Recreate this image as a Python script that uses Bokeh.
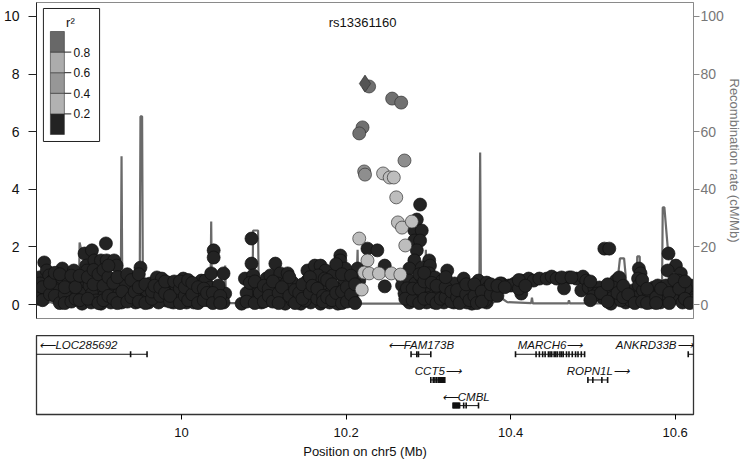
from bokeh.plotting import figure
from bokeh.models import Range1d, LinearAxis, FixedTicker, Label
from bokeh.layouts import column
from bokeh.embed import file_html
from bokeh.resources import INLINE
from bokeh.core.properties import value

FONT = "Liberation Sans"

# ---------------- data ----------------
x_view = (9.8236, 10.6224)          # Mb shown
logp_view = (-0.486, 10.486)        # -log10(p)
recomb_view = (-4.86, 104.86)       # cM/Mb

lead_name = "rs13361160"
lead_snp = (10.223, 7.67)

ld_bins = [0.0, 0.2, 0.4, 0.6, 0.8, 1.0]
ld_tick_labels = ["0.2", "0.4", "0.6", "0.8"]
ld_colors = ["#232323", "#b2b2b2", "#979797", "#acacac", "#686868"]

# (position Mb, -log10 p) by LD group
snps_r2_00_02 = [
    (9.827, 0.94), (9.833, 1.46), (9.836, 1.18), (9.839, 1.01), (9.843, 0.83), (9.837, 0.56),
    (9.845, 0.56), (9.849, 0.38), (9.851, 0.73), (9.855, 1.25), (9.854, 0.14), (9.848, 0.49),
    (9.854, 0.94), (9.828, 0.73),
    (9.863, 0.83), (9.869, 1.18), (9.873, 0.73), (9.879, 0.56), (9.882, 1.77), (9.891, 1.88),
    (9.908, 2.12), (9.884, 1.35), (9.894, 1.53), (9.902, 1.53), (9.909, 1.53), (9.918, 1.53),
    (9.921, 1.35), (9.885, 1.18), (9.897, 0.94), (9.908, 0.76), (9.878, 0.38), (9.879, 0.03),
    (9.890, 0.07), (9.902, 0.03), (9.914, 0.07), (9.914, 0.56), (9.924, 0.38), (9.867, 0.49),
    (9.888, 0.66), (9.900, 0.49), (9.891, 0.38), (9.906, 0.31), (9.896, 0.14), (9.861, 0.31),
    (9.872, 0.94),
    (9.930, 0.94), (9.927, 0.07), (9.940, 0.56), (9.950, 1.28), (9.945, 0.83), (9.944, 0.07),
    (9.954, 0.24), (9.962, 0.73), (9.970, 0.94), (9.976, 0.90), (9.969, 0.38), (9.981, 0.14),
    (9.960, 0.07), (9.988, 0.49), (9.996, 0.24), (10.002, 0.90), (10.011, 0.56), (10.018, 0.24),
    (10.024, 0.83), (9.936, 0.31), (9.952, 0.56), (9.972, 0.07), (9.984, 0.76), (9.993, 0.66),
    (10.006, 0.07), (10.015, 0.07), (10.023, 0.38), (9.990, 0.07), (9.978, 0.56), (9.958, 0.49),
    (9.932, 0.66),
    (10.029, 0.83), (10.039, 1.88), (10.039, 1.63), (10.036, 1.08), (10.035, 0.59), (10.024, 0.38),
    (10.033, 0.14), (10.042, 0.24), (10.051, 1.08), (10.053, 0.38), (10.051, 0.07), (10.073, 0.03),
    (10.077, 0.90), (10.085, 2.29), (10.085, 1.42), (10.087, 1.01), (10.085, 0.59), (10.091, 0.24),
    (10.097, 0.07), (10.103, 0.90), (10.114, 1.42), (10.108, 1.01), (10.120, 1.08), (10.129, 1.08),
    (10.114, 0.56), (10.123, 0.24), (10.126, 0.03), (10.135, 0.76), (10.141, 0.24), (10.145, 0.03),
    (10.153, 1.18), (10.162, 1.35), (10.169, 1.35), (10.175, 1.18), (10.162, 0.83), (10.169, 0.73),
    (10.178, 0.59), (10.160, 0.38), (10.169, 0.03), (10.180, 0.07), (10.193, 1.70), (10.193, 1.53),
    (10.190, 1.18), (10.198, 0.83), (10.186, 0.59), (10.193, 0.24), (10.190, 0.03), (10.204, 0.59),
    (10.208, 0.14), (10.214, 1.25), (10.216, 0.83), (10.045, 0.66), (10.041, 0.14), (10.087, 0.49),
    (10.099, 0.49), (10.109, 0.14), (10.117, 0.73), (10.129, 0.49), (10.135, 0.14), (10.150, 0.49),
    (10.153, 0.83), (10.157, 0.07), (10.166, 1.01), (10.174, 0.90), (10.184, 1.01), (10.181, 0.38),
    (10.199, 1.25), (10.202, 0.24), (10.210, 0.49), (10.150, 0.14), (10.127, 0.73), (10.102, 0.21),
    (10.081, 0.21),
    (10.290, 3.47), (10.286, 2.95), (10.283, 2.57), (10.292, 2.57), (10.283, 2.22), (10.290, 2.22),
    (10.286, 1.88), (10.226, 1.94), (10.238, 1.88), (10.247, 1.35), (10.247, 0.63), (10.283, 1.53),
    (10.301, 1.53), (10.277, 1.25), (10.292, 1.28), (10.302, 1.35), (10.268, 0.94), (10.268, 0.66),
    (10.277, 0.83), (10.284, 0.73), (10.292, 0.94), (10.301, 1.08), (10.308, 0.94), (10.323, 1.18),
    (10.317, 0.83), (10.271, 0.38), (10.280, 0.38), (10.292, 0.38), (10.305, 0.38), (10.317, 0.49),
    (10.325, 0.59), (10.332, 0.73), (10.343, 0.90), (10.341, 0.56), (10.353, 0.49), (10.361, 0.83),
    (10.371, 0.76), (10.381, 0.56), (10.389, 0.73), (10.398, 0.66), (10.405, 0.73), (10.413, 0.83),
    (10.422, 0.90), (10.413, 0.38), (10.307, 0.07), (10.319, 0.07), (10.331, 0.07), (10.344, 0.21),
    (10.353, 0.03), (10.371, 0.07), (10.277, 0.07), (10.298, 0.07), (10.311, 0.24), (10.326, 0.31),
    (10.341, 0.31), (10.361, 0.24), (10.373, 0.59), (10.387, 0.73), (10.401, 0.66), (10.369, 0.14),
    (10.347, 0.07), (10.286, 0.21), (10.274, 0.56), (10.298, 0.66), (10.313, 0.49),
    (10.428, 0.83), (10.435, 0.90), (10.444, 0.90), (10.450, 0.97), (10.456, 0.90), (10.464, 0.90),
    (10.471, 0.94), (10.480, 0.90), (10.488, 0.97), (10.492, 0.83), (10.465, 0.56), (10.486, 0.49),
    (10.495, 0.59), (10.502, 0.56), (10.508, 0.59), (10.514, 1.94), (10.520, 1.94), (10.528, 0.83),
    (10.532, 0.94), (10.525, 0.59), (10.516, 0.49), (10.512, 0.24), (10.524, 0.24), (10.522, 0.03),
    (10.540, 0.49), (10.549, 0.49), (10.556, 1.25), (10.558, 1.08), (10.555, 0.90), (10.556, 0.66),
    (10.540, 0.07), (10.552, 0.24), (10.564, 0.24), (10.574, 0.59), (10.579, 0.66), (10.570, 0.07),
    (10.582, 0.07), (10.585, 0.38), (10.592, 1.77), (10.601, 1.35), (10.591, 1.18), (10.607, 1.08),
    (10.604, 0.83), (10.597, 0.56), (10.609, 0.31), (10.616, 0.31), (10.619, 0.66), (10.597, 0.21),
    (10.609, 0.07), (10.462, 0.94), (10.474, 0.94), (10.534, 0.14), (10.546, 0.14), (10.561, 0.49),
    (10.568, 0.42), (10.589, 0.66), (10.613, 0.56), (10.621, 0.14), (10.505, 0.38), (10.500, 0.28),
    (9.825, 0.45), (9.825, 0.20), (9.831, 0.60), (9.831, 0.15), (9.840, 0.35), (9.840, 0.75),
    (9.846, 0.30), (9.846, 1.10), (9.852, 1.05), (9.852, 0.05), (9.858, 0.35), (9.858, 0.60),
    (9.858, 0.05), (9.866, 0.10), (9.866, 1.00), (9.871, 0.20), (9.871, 0.60), (9.876, 1.00),
    (9.876, 0.15), (9.886, 0.20), (9.886, 0.95), (9.893, 0.70), (9.893, 1.20), (9.899, 0.05),
    (9.899, 1.05), (9.905, 0.65), (9.905, 1.20), (9.905, 0.15), (9.911, 0.30), (9.911, 0.95),
    (9.911, 1.35), (9.917, 0.20), (9.917, 0.75), (9.922, 0.05), (9.922, 0.95), (9.928, 0.45),
    (9.934, 0.10), (9.934, 1.05), (9.939, 0.25), (9.939, 0.85), (9.943, 0.45), (9.948, 0.10),
    (9.948, 0.60), (9.948, 1.05), (9.956, 0.05), (9.956, 0.70), (9.964, 0.20), (9.964, 0.45),
    (9.967, 0.65), (9.974, 0.30), (9.974, 0.60), (9.980, 0.40), (9.980, 0.80), (9.986, 0.10),
    (9.986, 0.30), (9.991, 0.80), (9.998, 0.05), (9.998, 0.55), (9.998, 0.80), (10.004, 0.30),
    (10.004, 0.60), (10.008, 0.15), (10.008, 0.85), (10.013, 0.35), (10.013, 0.75), (10.020, 0.05),
    (10.020, 0.60), (10.027, 0.15), (10.027, 0.55), (10.031, 0.40), (10.038, 0.40), (10.038, 0.05),
    (10.047, 0.30), (10.047, 0.05), (10.079, 0.40), (10.079, 0.10), (10.083, 0.75), (10.089, 0.80),
    (10.089, 0.05), (10.095, 0.40), (10.100, 0.65), (10.100, 0.10), (10.106, 0.55), (10.106, 0.30),
    (10.111, 0.80), (10.111, 0.10), (10.118, 0.40), (10.118, 0.05), (10.122, 0.60), (10.131, 0.30),
    (10.131, 0.95), (10.138, 0.50), (10.138, 0.05), (10.143, 0.40), (10.147, 0.70), (10.147, 0.20),
    (10.156, 0.40), (10.156, 0.95), (10.159, 0.65), (10.165, 0.20), (10.165, 0.55), (10.172, 0.30),
    (10.172, 0.10), (10.177, 0.85), (10.177, 0.25), (10.183, 0.15), (10.183, 0.70), (10.188, 0.40),
    (10.188, 1.40), (10.195, 0.05), (10.195, 0.45), (10.195, 1.05), (10.201, 0.10), (10.201, 0.60),
    (10.206, 0.35), (10.206, 1.00), (10.211, 0.05), (10.211, 0.70),
    (10.272, 0.20), (10.281, 0.15), (10.281, 0.55), (10.289, 0.05), (10.289, 0.55), (10.289, 1.05),
    (10.295, 0.20), (10.295, 0.80), (10.295, 1.10), (10.304, 0.20), (10.304, 0.75), (10.310, 0.05),
    (10.310, 0.65), (10.315, 0.20), (10.321, 0.25), (10.321, 0.60), (10.321, 0.95), (10.328, 0.10),
    (10.328, 0.45), (10.335, 0.25), (10.335, 0.50), (10.338, 0.05), (10.346, 0.35), (10.346, 0.70),
    (10.350, 0.15), (10.356, 0.30), (10.356, 0.70), (10.359, 0.05), (10.365, 0.45), (10.365, 0.10),
    (10.376, 0.35), (10.376, 0.70), (10.384, 0.30), (10.384, 0.65), (10.393, 0.60), (10.410, 0.55),
    (10.410, 0.85), (10.418, 0.65),
    (10.497, 0.15), (10.497, 0.80), (10.510, 0.40), (10.518, 0.10), (10.518, 0.70), (10.530, 0.40),
    (10.537, 0.25), (10.537, 0.65), (10.543, 0.35), (10.551, 0.05), (10.560, 0.10), (10.560, 0.85),
    (10.566, 0.55), (10.566, 0.05), (10.577, 0.25), (10.577, 0.05), (10.583, 0.55), (10.593, 0.40),
    (10.593, 0.05), (10.599, 0.85), (10.605, 0.55), (10.612, 0.80), (10.612, 0.20), (10.618, 0.05),
]
snps_r2_02_04 = [
    (10.245, 4.55), (10.253, 4.41), (10.258, 4.41), (10.261, 3.72), (10.263, 2.85), (10.268, 2.67),
    (10.280, 2.88), (10.216, 2.29), (10.272, 2.05), (10.226, 1.53), (10.222, 1.11), (10.228, 1.08),
    (10.240, 1.08), (10.255, 1.08), (10.266, 1.04), (10.219, 0.52),
]
snps_r2_04_06 = [(10.271, 5.00), (10.222, 4.62), (10.223, 4.51)]
snps_r2_08_10 = [(10.228, 7.57), (10.256, 7.15), (10.267, 7.01), (10.220, 6.15), (10.216, 5.94)]

# (position Mb, recombination rate cM/Mb)
recomb_rate = [
    (9.80, 0.3), (9.836, 0.3), (9.840, 0.9), (9.846, 0.3), (9.875, 0.4), (9.876, 21.5), (9.878, 19.0),
    (9.883, 17.0), (9.884, 0.5), (9.926, 0.5), (9.927, 51.5), (9.928, 0.5), (9.949, 0.5), (9.950, 65.3),
    (9.952, 65.3), (9.953, 0.5), (10.035, 0.5), (10.036, 28.8), (10.037, 0.5), (10.052, 0.5),
    (10.053, 13.5), (10.054, 0.5), (10.086, 0.5), (10.087, 25.7), (10.093, 25.7), (10.094, 0.5),
    (10.212, 0.3), (10.214, 19.0), (10.215, 0.3), (10.296, 0.3), (10.297, 19.0), (10.298, 0.5),
    (10.362, 0.5), (10.363, 52.8), (10.364, 0.6), (10.372, 1.8), (10.378, 0.6), (10.390, 2.0),
    (10.396, 0.8), (10.425, 0.5), (10.426, 2.4), (10.427, 0.4), (10.470, 0.4), (10.471, 1.5),
    (10.472, 0.4), (10.510, 0.4), (10.511, 2.0), (10.512, 0.4), (10.527, 0.5), (10.533, 16.0),
    (10.538, 16.0), (10.543, 0.5), (10.553, 0.5), (10.554, 16.7), (10.557, 16.7), (10.558, 0.5),
    (10.584, 0.5), (10.585, 33.7), (10.587, 33.7), (10.591, 20.0), (10.596, 19.0), (10.597, 0.5),
    (10.65, 0.5),
]

gene_names = ["LOC285692", "FAM173B", "CCT5", "CMBL", "MARCH6", "ROPN1L", "ANKRD33B"]
gene_start = [9.790, 10.279, 10.303, 10.330, 10.406, 10.494, 10.616]
gene_end = [9.958, 10.303, 10.320, 10.361, 10.490, 10.518, 10.660]
gene_strand = ["-", "-", "+", "-", "+", "+", "+"]
gene_row = [1, 1, 2, 3, 1, 2, 1]
gene_exons = [
    [9.938, 9.958],
    [10.279, 10.286, 10.288, 10.303],
    [10.303, 10.306, 10.308, 10.310, 10.312, 10.313, 10.314, 10.315, 10.316, 10.317, 10.318, 10.319, 10.320],
    [10.330, 10.331, 10.332, 10.333, 10.334, 10.335, 10.336, 10.337, 10.338, 10.343, 10.346, 10.361],
    [10.406, 10.431, 10.435, 10.439, 10.442, 10.446, 10.448, 10.450, 10.453, 10.455, 10.457, 10.460,
     10.462, 10.464, 10.468, 10.471, 10.475, 10.479, 10.482, 10.486, 10.490],
    [10.494, 10.500, 10.511, 10.518],
    [10.616],
]

x_ticks = [10, 10.2, 10.4, 10.6]
x_tick_labels = ["10", "10.2", "10.4", "10.6"]
logp_ticks = [0, 2, 4, 6, 8, 10]
recomb_ticks = [0, 20, 40, 60, 80, 100]

# ---------------- main panel ----------------
W = 745
p = figure(width=W, height=335, x_range=Range1d(*x_view), y_range=Range1d(*logp_view),
           output_backend="svg", toolbar_location=None, x_axis_location=None,
           min_border_left=32, min_border_right=52, min_border_top=2, min_border_bottom=17)
p.grid.visible = False
p.outline_line_color = "#8a8a8a"
p.background_fill_color = "white"
p.border_fill_color = "white"

p.yaxis.ticker = FixedTicker(ticks=logp_ticks)
p.yaxis.major_tick_out = 8
p.yaxis.major_tick_in = 0
p.yaxis.minor_tick_line_color = None
p.yaxis.major_label_standoff = 9
p.yaxis.major_label_text_font = FONT
p.yaxis.major_label_text_font_size = "14px"
p.yaxis.major_label_text_color = "#111111"
p.yaxis.axis_line_color = "#222222"
p.yaxis.major_tick_line_color = "#222222"

p.extra_y_ranges = {"recomb": Range1d(*recomb_view)}
ax_r = LinearAxis(y_range_name="recomb", ticker=FixedTicker(ticks=recomb_ticks),
                  axis_label="Recombination rate (cM/Mb)")
ax_r.major_tick_out = 6
ax_r.major_tick_in = 0
ax_r.minor_tick_line_color = None
ax_r.major_label_standoff = 1
ax_r.major_label_text_font = FONT
ax_r.major_label_text_font_size = "14px"
ax_r.major_label_text_color = "#777777"
ax_r.major_tick_line_color = "#888888"
ax_r.axis_line_color = "#8a8a8a"
ax_r.axis_label_text_font = FONT
ax_r.axis_label_text_font_size = "13px"
ax_r.axis_label_text_font_style = "normal"
ax_r.axis_label_text_color = "#777777"
ax_r.axis_label_text_line_height = 0.9
ax_r.axis_label_standoff = 0
p.add_layout(ax_r, "right")

rx = [r[0] for r in recomb_rate]
ry = [r[1] for r in recomb_rate]
p.line(rx, ry, y_range_name="recomb", line_color="#6a6a6a", line_width=2.2)

groups = [
    (snps_r2_00_02, ld_colors[0], "#111111"),
    (snps_r2_02_04, "#bdbdbd", "#333333"),
    (snps_r2_04_06, "#8e8e8e", "#333333"),
    (snps_r2_08_10, "#707070", "#333333"),
]
for pts, fill, line in groups:
    p.scatter([q[0] for q in pts], [q[1] for q in pts], marker="circle", size=13,
              fill_color=fill, line_color=line, line_width=0.7)
p.scatter([lead_snp[0]], [lead_snp[1]], marker="diamond", size=17,
          fill_color="#555555", line_color="#333333", line_width=0.7)

p.add_layout(Label(x=10.22, y=9.79, text=lead_name, text_align="center", text_baseline="middle",
                   text_font=FONT, text_font_size="13px", text_color="#111111"))

# ---- r^2 key (drawn in the panel's top-left corner) ----
box_l, box_r, box_t, box_b = 9.8320, 9.9003, 10.278, 5.660
bar_l, bar_r, bar_lo, bar_hi = 9.8405, 9.8575, 5.903, 9.479


def key_y(r2):
    return bar_lo + r2 * (bar_hi - bar_lo)


p.quad(left=[box_l], right=[box_r], top=[box_t], bottom=[box_b], fill_color="white",
       line_color="#222222", line_width=1)
p.quad(left=[bar_l] * 5, right=[bar_r] * 5, bottom=[key_y(b) for b in ld_bins[:-1]],
       top=[key_y(b) for b in ld_bins[1:]], fill_color=ld_colors, line_color="#333333",
       line_width=0.6)
tick_vals = ld_bins[1:-1]
p.segment(x0=[bar_r] * 4, x1=[9.8659] * 4, y0=[key_y(t) for t in tick_vals],
          y1=[key_y(t) for t in tick_vals], line_color="#222222", line_width=1)
p.text(x=[9.8686] * 4, y=[key_y(t) for t in tick_vals], text=ld_tick_labels,
       text_font=value(FONT), text_font_size="12px", text_align="left", text_baseline="middle",
       text_color="#111111")
p.text(x=[9.8648], y=[9.79], text=["r\u00b2"], text_font=value(FONT), text_font_size="13px",
       text_align="center", text_baseline="middle", text_color="#111111")

# ---------------- gene panel ----------------
g = figure(width=W, height=126, x_range=p.x_range, y_range=Range1d(3.346, 0.269),
           output_backend="svg", toolbar_location=None, y_axis_location=None,
           min_border_left=32, min_border_right=52, min_border_top=0, min_border_bottom=46)
g.grid.visible = False
g.outline_line_color = "#333333"
g.outline_line_width = 1.3
g.background_fill_color = "white"
g.border_fill_color = "white"

g.xaxis.ticker = FixedTicker(ticks=x_ticks)
g.xaxis.major_label_overrides = dict(zip(x_ticks, x_tick_labels))
g.xaxis.major_tick_out = 5
g.xaxis.major_tick_in = 0
g.xaxis.minor_tick_line_color = None
g.xaxis.major_label_standoff = 8
g.xaxis.major_label_text_font = FONT
g.xaxis.major_label_text_font_size = "13px"
g.xaxis.major_label_text_color = "#111111"
g.xaxis.axis_line_color = "#333333"
g.xaxis.axis_label = "Position on chr5 (Mb)"
g.xaxis.axis_label_text_font = FONT
g.xaxis.axis_label_text_font_size = "13px"
g.xaxis.axis_label_text_font_style = "normal"
g.xaxis.axis_label_text_color = "#111111"
g.xaxis.axis_label_standoff = 4

g.segment(x0=gene_start, y0=gene_row, x1=gene_end, y1=gene_row, line_color="#111111", line_width=1)
ex_x, ex_y = [], []
for ex, row in zip(gene_exons, gene_row):
    ex_x += ex
    ex_y += [row] * len(ex)
g.rect(x=ex_x, y=ex_y, width=1.6, height=6, width_units="screen", height_units="screen",
       fill_color="#111111", line_color=None)

xmin, xmax = x_view
for name, s, e, strand, row in zip(gene_names, gene_start, gene_end, gene_strand, gene_row):
    label = ("\u27f5" + name) if strand == "-" else (name + "\u27f6")
    if s < xmin:
        lx, align = xmin + 0.0036, "left"
    elif e > xmax:
        lx, align = xmax - 0.0012, "right"
    else:
        lx, align = (s + e) / 2, "center"
    g.text(x=[lx], y=[row - 0.35], text=[label], text_align=align, text_baseline="middle",
           text_font=value(FONT), text_font_style="italic", text_font_size="11.5px",
           text_color="#111111")

layout = column(p, g, spacing=0)
open("out.html", "w").write(file_html(layout, INLINE))
